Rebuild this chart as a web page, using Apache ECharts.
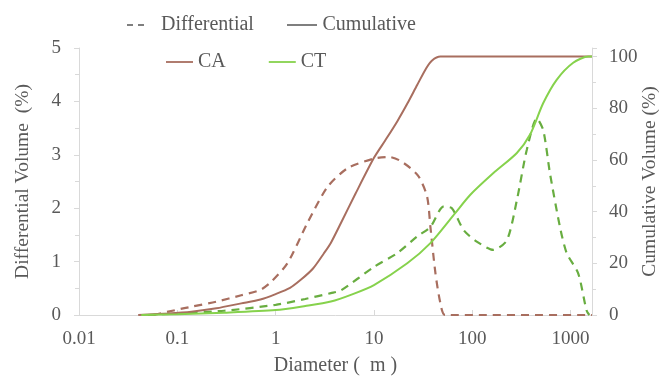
<!DOCTYPE html>
<html>
<head>
<meta charset="utf-8">
<script src="https://cdn.jsdelivr.net/npm/echarts@6/dist/echarts.min.js"></script>
<style>
html, body { margin: 0; padding: 0; background: #fff; }
#chart { width: 661px; height: 376px; }
</style>
</head>
<body>
<div id="chart"></div>
<script>
// diameters (um) and values
const caDiffD = [0.057, 0.1, 0.139, 0.25, 0.447, 0.7, 0.9, 1.32, 2.1, 3.37, 5.4, 10, 14.2, 18, 23.5, 28.6, 34.7, 37.5, 42.2, 47.4, 53, 1650];
const caDiffV = [0, 0.1, 0.155, 0.25, 0.37, 0.47, 0.62, 0.97, 1.72, 2.4, 2.75, 2.93, 2.96, 2.9, 2.75, 2.59, 2.22, 1.65, 0.78, 0.22, 0, 0];
const ctDiffD = [0.05, 0.1, 0.3, 1, 2, 3.64, 4.6, 10, 17.3, 27.5, 37.5, 51, 62, 81.7, 112, 164, 225, 284, 358, 453, 527, 617, 779, 912, 1194, 1450, 1550];
const ctDiffV = [0, 0.03, 0.08, 0.19, 0.3, 0.41, 0.46, 0.9, 1.16, 1.47, 1.65, 2.03, 2.0, 1.59, 1.37, 1.22, 1.4, 2.15, 3.09, 3.68, 3.46, 2.65, 1.65, 1.16, 0.78, 0.09, 0];
const caCumD = [0.04, 0.08, 0.139, 0.25, 0.447, 0.7, 1, 1.4, 1.8, 2.4, 3.1, 3.64, 4.6, 6.5, 10, 13, 17.3, 22, 27.5, 34, 39, 47.4, 60, 1650];
const caCumV = [0, 0.6, 1.3, 2.6, 4.5, 6, 8.1, 10.5, 13.6, 18, 23.9, 27.9, 35.5, 47, 60.8, 67.5, 75, 82, 89, 95.5, 98.5, 100, 100, 100];
const ctCumD = [0.043, 0.1, 0.3, 1, 2, 3.64, 6, 10, 21.8, 37.5, 67, 95.5, 164, 284, 387, 527, 721, 1062, 1510, 1650];
const ctCumV = [0, 0.3, 0.9, 1.9, 3.5, 5.2, 8, 11.6, 20, 27.8, 39.4, 46.5, 54.9, 62.7, 69.8, 82, 91, 97.6, 100, 100];

const pairs = (d, v) => d.map((x, i) => [x, v[i]]);
const textColor = "#595959";
const font = "Liberation Serif";
const brown = "#a86e5f";
const green = "#86d24c";
const greenDark = "#68ad40";
const legendGray = "#7f7f7f";
const axisGray = "#d9d9d9";
const lineIcon = "path://M0,0h30v2h-30z";
const legendText = { fontSize: 20, color: textColor, fontFamily: font };

const myChart = echarts.init(document.getElementById("chart"));
const option = {
  animation: false,
  textStyle: { fontFamily: font, color: textColor },
  grid: { left: 79, right: 69, top: 48, bottom: 61, containLabel: false, outerBoundsMode: "none" },
  legend: [
    {
      left: 122, top: 10, itemWidth: 17, itemHeight: 2,
      data: [{ name: "Differential", icon: "path://M0,0h6v2h-6zM11,0h6v2h-6z" }],
      textStyle: Object.assign({ padding: [0, 0, 0, 12] }, legendText),
    },
    {
      left: 282, top: 10, itemWidth: 31, itemHeight: 2,
      data: [{ name: "Cumulative", icon: lineIcon }],
      textStyle: legendText,
    },
    {
      left: 161, top: 47, itemWidth: 27, itemHeight: 2, itemGap: 43,
      data: [{ name: "CA", icon: lineIcon }, { name: "CT", icon: lineIcon }],
      textStyle: legendText,
    },
  ],
  xAxis: {
    type: "log", logBase: 10, min: 0.01, max: 1650,
    name: "Diameter (  m )", nameLocation: "middle", nameGap: 41, nameMoveOverlap: false,
    nameTextStyle: { fontSize: 20, color: textColor },
    axisLine: { lineStyle: { color: axisGray } },
    axisTick: { inside: true, length: 5, lineStyle: { color: axisGray } },
    splitLine: { show: false },
    axisLabel: {
      fontSize: 19, color: textColor, margin: 15,
      formatter: (v) => {
        const l = Math.log10(v);
        return Math.abs(l - Math.round(l)) < 1e-6 ? String(Math.pow(10, Math.round(l))) : "";
      },
    },
  },
  yAxis: [
    {
      type: "value", min: 0, max: 5, interval: 1,
      name: "Differential Volume  (%)", nameLocation: "middle", nameGap: 46, nameMoveOverlap: false,
      nameTextStyle: { fontSize: 19.5, color: textColor },
      axisLine: { show: true, lineStyle: { color: axisGray } },
      axisTick: { show: true, length: 5, lineStyle: { color: axisGray } },
      minorTick: { show: true, splitNumber: 2, length: 4, lineStyle: { color: axisGray } },
      splitLine: { show: false },
      axisLabel: { fontSize: 19, color: textColor, margin: 18 },
    },
    {
      type: "value", min: 0, max: 103.3, interval: 20,
      name: "Cumulative Volume (%)", nameLocation: "middle", nameGap: 48, nameMoveOverlap: false,
      nameTextStyle: { fontSize: 19.5, color: textColor },
      axisLine: { show: true, lineStyle: { color: axisGray } },
      axisTick: { show: true, length: 5, lineStyle: { color: axisGray } },
      minorTick: { show: true, splitNumber: 2, length: 4, lineStyle: { color: axisGray } },
      splitLine: { show: false },
      axisLabel: {
        fontSize: 19, color: textColor, margin: 17,
        formatter: (v) => (v % 20 === 0 ? String(v) : ""),
      },
    },
  ],
  series: [
    {
      name: "Differential", type: "line", data: [], symbol: "none",
      itemStyle: { color: legendGray },
      lineStyle: { color: legendGray },
    },
    {
      name: "Cumulative", type: "line", data: [], symbol: "none",
      itemStyle: { color: legendGray },
      lineStyle: { color: legendGray },
    },
    {
      name: "CA diff", type: "line", yAxisIndex: 0, symbol: "none", smooth: 0.25,
      data: pairs(caDiffD, caDiffV),
      lineStyle: { color: brown, width: 2.2, type: [8, 6] },
    },
    {
      name: "CT diff", type: "line", yAxisIndex: 0, symbol: "none", smooth: 0.25,
      data: pairs(ctDiffD, ctDiffV),
      lineStyle: { color: greenDark, width: 2.2, type: [8, 6] },
    },
    {
      name: "CA", type: "line", yAxisIndex: 1, symbol: "none", smooth: 0.25,
      data: pairs(caCumD, caCumV),
      itemStyle: { color: brown },
      lineStyle: { color: brown, width: 2 },
    },
    {
      name: "CT", type: "line", yAxisIndex: 1, symbol: "none", smooth: 0.25,
      data: pairs(ctCumD, ctCumV),
      itemStyle: { color: green },
      lineStyle: { color: green, width: 2 },
    },
  ],
};
myChart.setOption(option);
</script>
</body>
</html>
